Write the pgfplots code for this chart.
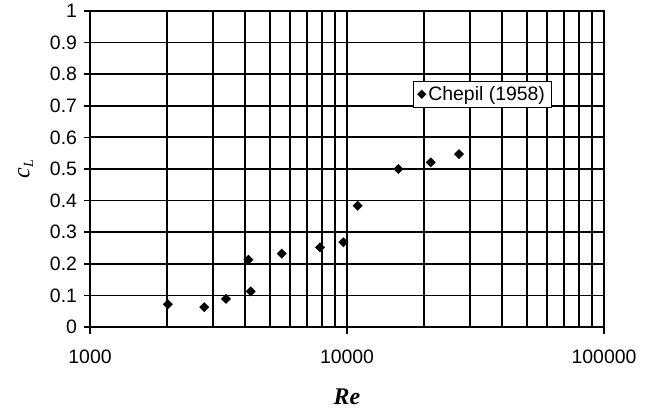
\documentclass[border=0pt]{standalone}
\usepackage{fontspec}
\setmainfont{Liberation Sans}
\newfontfamily\seriffont{Liberation Serif}
\usepackage{pgfplots}
\pgfplotsset{compat=1.18}

% filled square diamond (equal width and height)
\pgfdeclareplotmark{sqdiamond}{%
  \pgfpathmoveto{\pgfqpoint{0pt}{\pgfplotmarksize}}%
  \pgfpathlineto{\pgfqpoint{\pgfplotmarksize}{0pt}}%
  \pgfpathlineto{\pgfqpoint{0pt}{-\pgfplotmarksize}}%
  \pgfpathlineto{\pgfqpoint{-\pgfplotmarksize}{0pt}}%
  \pgfpathclose
  \pgfusepathqfill}

\begin{document}
\begin{tikzpicture}
\begin{axis}[
  scale only axis,
  width=514bp, height=316bp,
  xmode=log, log basis x=10,
  xmin=1000, xmax=100000,
  ymin=0, ymax=1,
  xtick={1000,10000,100000},
  xticklabels={1000,10000,100000},
  minor xtick={2000,3000,4000,5000,6000,7000,8000,9000,
               20000,30000,40000,50000,60000,70000,80000,90000},
  ytick={0,0.1,0.2,0.3,0.4,0.5,0.6,0.7,0.8,0.9,1},
  yticklabels={0,0.1,0.2,0.3,0.4,0.5,0.6,0.7,0.8,0.9,1},
  tick pos=left,
  tick align=outside,
  major tick length=6.5bp,
  minor tick length=0pt,
  every tick/.style={black, line width=1.6bp},
  grid=both,
  major grid style={black, line width=1.8bp},
  minor grid style={black, line width=1.8bp},
  axis line style={black, line width=1.8bp},
  tick label style={font=\fontsize{19.5}{21}\selectfont},
  /pgf/number format/assume math mode=true,
  xticklabel style={yshift=-13bp},
  yticklabel style={xshift=-3bp},
  xlabel={\seriffont\bfseries\itshape Re},
  ylabel={\seriffont\itshape c\raisebox{-0.35ex}{\fontsize{14}{14}\selectfont L}},
  xlabel style={font=\fontsize{24}{26}\selectfont, yshift=-18bp},
  ylabel style={font=\fontsize{24}{26}\selectfont, yshift=10bp},
  legend style={at={(0.628,0.778)}, anchor=north west,
    draw=black, line width=0.7bp, fill=white,
    font=\fontsize{19.5}{21}\selectfont,
    inner xsep=4bp, inner ysep=3bp,
    legend cell align=left},
  legend image code/.code={\draw[#1, mark size=4.6bp] plot coordinates {(0bp,0bp)};},
]
\addplot[only marks, mark=sqdiamond, mark size=5bp, black]
  coordinates {
  (2010,0.072)
  (2785,0.063)
  (3380,0.089)
  (4130,0.213)
  (4220,0.113)
  (5570,0.232)
  (7850,0.252)
  (9680,0.268)
  (11000,0.384)
  (15830,0.500)
  (21160,0.521)
  (27290,0.547)
};
\addlegendentry{Chepil (1958)}
\end{axis}
\pgfresetboundingbox
\path ([shift={(-90bp,-84bp)}]current axis.south west) rectangle ++(653bp,411bp);
\end{tikzpicture}
\end{document}
